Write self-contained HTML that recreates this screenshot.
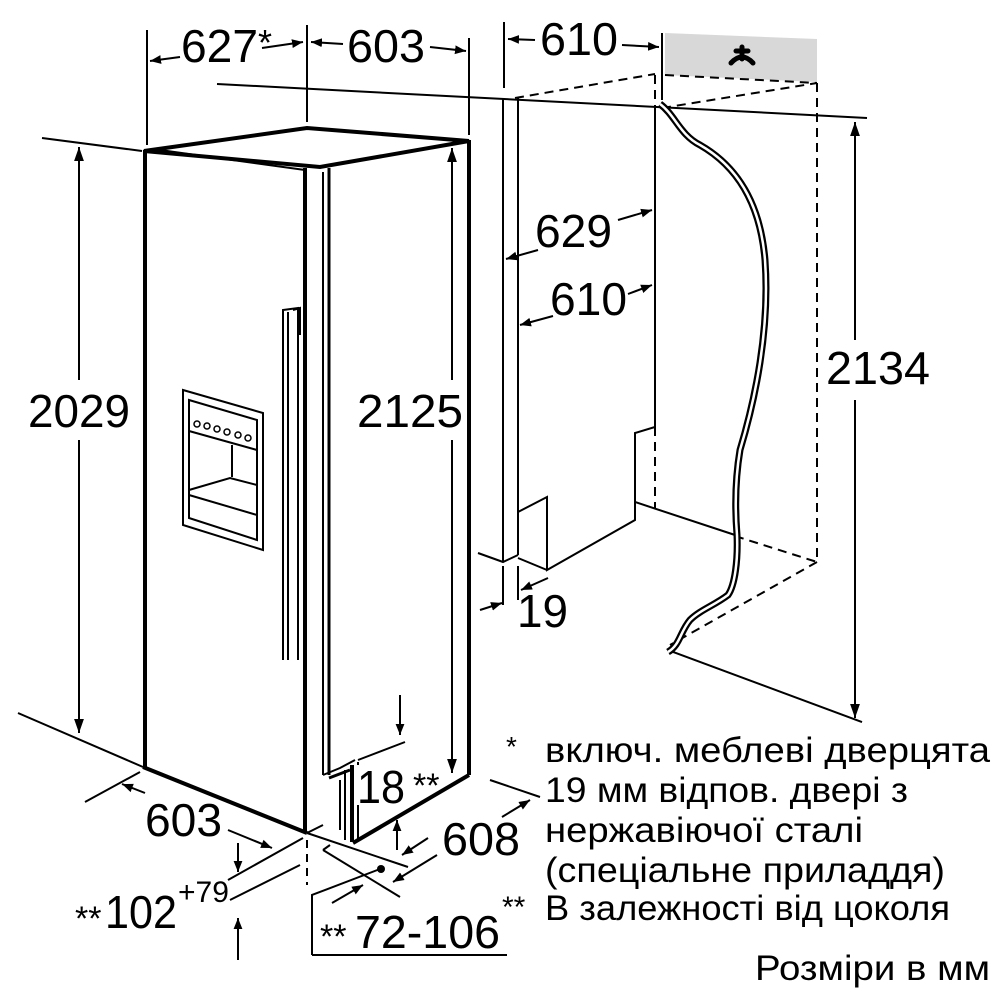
<!DOCTYPE html>
<html><head><meta charset="utf-8"><style>
html,body{margin:0;padding:0;background:#fff;}
svg{display:block;}
text{font-family:"Liberation Sans",Arial,sans-serif;fill:#000;}
</style></head><body>
<svg width="1000" height="1000" viewBox="0 0 1000 1000" xmlns="http://www.w3.org/2000/svg">
<defs>
<marker id="a" viewBox="0 0 10 10" refX="10" refY="5" markerWidth="11" markerHeight="11" markerUnits="userSpaceOnUse" orient="auto"><path d="M0,1 L10,5 L0,9 z" fill="#000"/></marker>
<marker id="b" viewBox="0 0 10 10" refX="10" refY="5" markerWidth="14" markerHeight="14" markerUnits="userSpaceOnUse" orient="auto"><path d="M0,1.5 L10,5 L0,8.5 z" fill="#000"/></marker>
</defs>
<g stroke="#000" fill="none" stroke-width="2">
<line x1="147" y1="30" x2="147" y2="145"/>
<line x1="307" y1="25" x2="307" y2="122"/>
<line x1="469" y1="38" x2="469" y2="135"/>
<line x1="504" y1="22" x2="504" y2="88"/>
<line x1="662" y1="33" x2="662" y2="100"/>
<line x1="180" y1="57" x2="150" y2="61" marker-end="url(#a)"/>
<line x1="262" y1="48" x2="303" y2="42" marker-end="url(#a)"/>
<line x1="343" y1="44" x2="311" y2="42" marker-end="url(#a)"/>
<line x1="430" y1="47" x2="466" y2="51" marker-end="url(#a)"/>
<line x1="535" y1="40" x2="508" y2="39" marker-end="url(#a)"/>
<line x1="622" y1="45" x2="659" y2="47" marker-end="url(#a)"/>
<line x1="217" y1="84" x2="867" y2="118"/>
</g>
<polygon points="665,33 817,39 817,82 665,75" fill="#d8d8d8"/>
<path d="M731,63 q11,-12 22,0 M742,47 v12 M736,51 h12" stroke="#000" stroke-width="5" fill="none" stroke-linecap="round"/>
<g stroke="#000" fill="none" stroke-width="2" stroke-dasharray="9,6">
<line x1="515" y1="98" x2="655" y2="74"/>
<line x1="665" y1="75" x2="817" y2="83"/>
<line x1="662" y1="108" x2="817" y2="83"/>
<line x1="655" y1="75" x2="655" y2="108"/>
<line x1="817" y1="83" x2="817" y2="562"/>
<line x1="735" y1="536" x2="817" y2="562"/>
<line x1="817" y1="562" x2="670" y2="645"/>
<line x1="655" y1="427" x2="655" y2="508"/>
</g>
<g stroke="#000" fill="none" stroke-width="2">
<line x1="503" y1="98" x2="503" y2="562"/>
<line x1="518" y1="97" x2="518" y2="555"/>
<polyline points="655,108 655,427 635,433 635,502 735,535"/>
<polyline points="635,502 635,520 547,570 547,497 518,512"/>
<line x1="518" y1="558" x2="547" y2="570"/>
<polyline points="478,553 503,562 518,555"/>
<line x1="503" y1="566" x2="503" y2="605"/>
<line x1="518" y1="566" x2="518" y2="600"/>
<line x1="480" y1="610" x2="502" y2="603" marker-end="url(#a)"/>
<line x1="548" y1="578" x2="521" y2="590" marker-end="url(#a)"/>
<line x1="668" y1="650" x2="862" y2="722"/>
<!-- 629 / 610 arrows -->
<line x1="538" y1="250" x2="506" y2="259" marker-end="url(#a)"/>
<line x1="618" y1="220" x2="652" y2="210" marker-end="url(#a)"/>
<line x1="553" y1="316" x2="520" y2="325" marker-end="url(#a)"/>
<line x1="628" y1="294" x2="652" y2="285" marker-end="url(#a)"/>
<line x1="855" y1="200" x2="855" y2="122" marker-end="url(#b)"/>
<line x1="855" y1="340" x2="855" y2="122"/>
<line x1="855" y1="640" x2="855" y2="718" marker-end="url(#b)"/>
<line x1="855" y1="400" x2="855" y2="718"/>
<line x1="42" y1="138" x2="142" y2="151"/>
<line x1="18" y1="713" x2="143" y2="767"/>
<line x1="79" y1="380" x2="79" y2="147" marker-end="url(#b)"/>
<line x1="79" y1="440" x2="79" y2="733" marker-end="url(#b)"/>
<line x1="452" y1="380" x2="452" y2="148" marker-end="url(#b)"/>
<line x1="452" y1="440" x2="452" y2="773" marker-end="url(#b)"/>
</g>
<path d="M660,104 C675,115 680,135 700,145 C735,165 760,200 765,260 C770,330 755,400 740,450 C735,480 735,510 737,535 C738,560 735,585 728,595 C715,605 700,610 690,620 C680,632 680,645 668,652" stroke="#000" stroke-width="7" fill="none"/>
<path d="M660,104 C675,115 680,135 700,145 C735,165 760,200 765,260 C770,330 755,400 740,450 C735,480 735,510 737,535 C738,560 735,585 728,595 C715,605 700,610 690,620 C680,632 680,645 668,652" stroke="#fff" stroke-width="2.5" fill="none"/>
<g stroke="#000" fill="none">
<polygon points="144,151 307,128 469,141 320,167" stroke-width="4" fill="#fff"/>
<line x1="160" y1="150" x2="305" y2="170" stroke-width="2"/>
<line x1="145" y1="150" x2="145" y2="768" stroke-width="4"/>
<line x1="305" y1="168" x2="305" y2="833" stroke-width="4"/>
<line x1="323" y1="172" x2="323" y2="775" stroke-width="2"/>
<line x1="329" y1="168" x2="329" y2="775" stroke-width="3"/>
<line x1="469" y1="140" x2="469" y2="775" stroke-width="4"/>
<line x1="143" y1="767" x2="307" y2="833" stroke-width="4"/>
<line x1="353" y1="843" x2="469" y2="775" stroke-width="4"/>
<line x1="307" y1="833" x2="408" y2="867" stroke-width="2"/>
<line x1="307" y1="833" x2="323" y2="825" stroke-width="2"/>
<polyline points="323,775 340,768 355,760" stroke-width="2"/>
<polyline points="329,778 350,770" stroke-width="3"/>
<line x1="345" y1="770" x2="345" y2="840" stroke-width="2"/>
<line x1="352" y1="765" x2="352" y2="842" stroke-width="4"/>
<line x1="358" y1="762" x2="358" y2="840" stroke-width="2"/>
<line x1="340" y1="780" x2="340" y2="830" stroke-width="2"/>
<polyline points="283,660 283,310 298,308 298,660" stroke-width="2"/>
<line x1="288" y1="312" x2="288" y2="660" stroke-width="2"/>
<polyline points="293,310 300,308 300,335" stroke-width="2"/>
<polygon points="183,390 263,413 263,550 183,525" stroke-width="2"/>
<polygon points="189,400 257,420 257,540 189,518" stroke-width="2"/>
<line x1="189" y1="431" x2="257" y2="450" stroke-width="2"/>
<polyline points="189,490 230,478 257,485" stroke-width="2"/>
<line x1="232" y1="445" x2="232" y2="477" stroke-width="2"/>
<line x1="189" y1="495" x2="257" y2="515" stroke-width="2"/>
<g stroke-width="1.5">
<circle cx="197" cy="424" r="3"/><circle cx="207" cy="426" r="3"/><circle cx="217" cy="429" r="3"/><circle cx="227" cy="432" r="3"/><circle cx="238" cy="435" r="3"/><circle cx="248" cy="438" r="3"/>
</g>
</g>
<g stroke="#000" fill="none" stroke-width="2">
<line x1="85" y1="802" x2="140" y2="772"/>
<line x1="145" y1="793" x2="122" y2="784" marker-end="url(#a)"/>
<line x1="228" y1="830" x2="272" y2="848" marker-end="url(#a)"/>
<line x1="228" y1="880" x2="303" y2="838"/>
<line x1="238" y1="843" x2="238" y2="872" marker-end="url(#a)"/>
<line x1="230" y1="900" x2="300" y2="865"/>
<line x1="238" y1="960" x2="238" y2="918" marker-end="url(#a)"/>
<line x1="307" y1="840" x2="307" y2="885" stroke-dasharray="8,6"/>
<line x1="323" y1="850" x2="400" y2="897"/>
<line x1="323" y1="850" x2="330" y2="845"/>
<line x1="400" y1="695" x2="400" y2="735" marker-end="url(#a)"/>
<line x1="358" y1="760" x2="405" y2="742"/>
<line x1="397" y1="850" x2="397" y2="820" marker-end="url(#a)"/>
<line x1="490" y1="780" x2="540" y2="797"/>
<line x1="502" y1="817" x2="530" y2="800" marker-end="url(#a)"/>
<line x1="428" y1="838" x2="402" y2="855" marker-end="url(#a)"/>
<line x1="437" y1="855" x2="393" y2="882" marker-end="url(#a)"/>
<polyline points="312,955 312,895 380,869"/>
<line x1="312" y1="955" x2="507" y2="955"/>
<line x1="332" y1="903" x2="363" y2="885" marker-end="url(#a)"/>
</g>
<circle cx="381" cy="869" r="4" fill="#000"/>
<g font-size="46">
<text x="181" y="62" textLength="77" lengthAdjust="spacingAndGlyphs">627</text><text x="258" y="55" font-size="36">*</text>
<text x="347" y="62" textLength="78" lengthAdjust="spacingAndGlyphs">603</text>
<text x="540" y="55" textLength="78" lengthAdjust="spacingAndGlyphs">610</text>
<text x="535" y="247" textLength="77" lengthAdjust="spacingAndGlyphs">629</text>
<text x="550" y="315" textLength="77" lengthAdjust="spacingAndGlyphs">610</text>
<text x="28" y="427" textLength="102" lengthAdjust="spacingAndGlyphs">2029</text>
<rect x="355" y="390" width="95" height="45" fill="#fff"/>
<text x="357" y="427" textLength="106" lengthAdjust="spacingAndGlyphs">2125</text>
<text x="826" y="384" textLength="104" lengthAdjust="spacingAndGlyphs">2134</text>
<text x="517" y="627" textLength="51" lengthAdjust="spacingAndGlyphs">19</text>
<text x="145" y="836" textLength="77" lengthAdjust="spacingAndGlyphs">603</text>
<text x="442" y="855" textLength="78" lengthAdjust="spacingAndGlyphs">608</text>
<rect x="356" y="765" width="48" height="40" fill="#fff"/>
<text x="357" y="803" textLength="48" lengthAdjust="spacingAndGlyphs">18</text><text x="413" y="797" font-size="34">**</text>
<text x="75" y="930" font-size="34">**</text><text x="105" y="928" textLength="72" lengthAdjust="spacingAndGlyphs">102</text><text x="178" y="902" font-size="30">+79</text>
<text x="320" y="948" font-size="34">**</text><text x="355" y="948" textLength="145" lengthAdjust="spacingAndGlyphs">72-106</text>
</g>
<g font-size="35">
<text x="506" y="756" font-size="28">*</text>
<text x="545" y="762" textLength="445" lengthAdjust="spacingAndGlyphs">включ. меблеві дверцята</text>
<text x="545" y="802" textLength="363" lengthAdjust="spacingAndGlyphs">19 мм відпов. двері з</text>
<text x="545" y="842" textLength="318" lengthAdjust="spacingAndGlyphs">нержавіючої сталі</text>
<text x="545" y="882" textLength="400" lengthAdjust="spacingAndGlyphs">(спеціальне приладдя)</text>
<text x="502" y="917" font-size="30">**</text>
<text x="545" y="920" textLength="405" lengthAdjust="spacingAndGlyphs">В залежності від цоколя</text>
<text x="755" y="980" textLength="235" lengthAdjust="spacingAndGlyphs">Розміри в мм</text>
</g>
</svg>
</body></html>
